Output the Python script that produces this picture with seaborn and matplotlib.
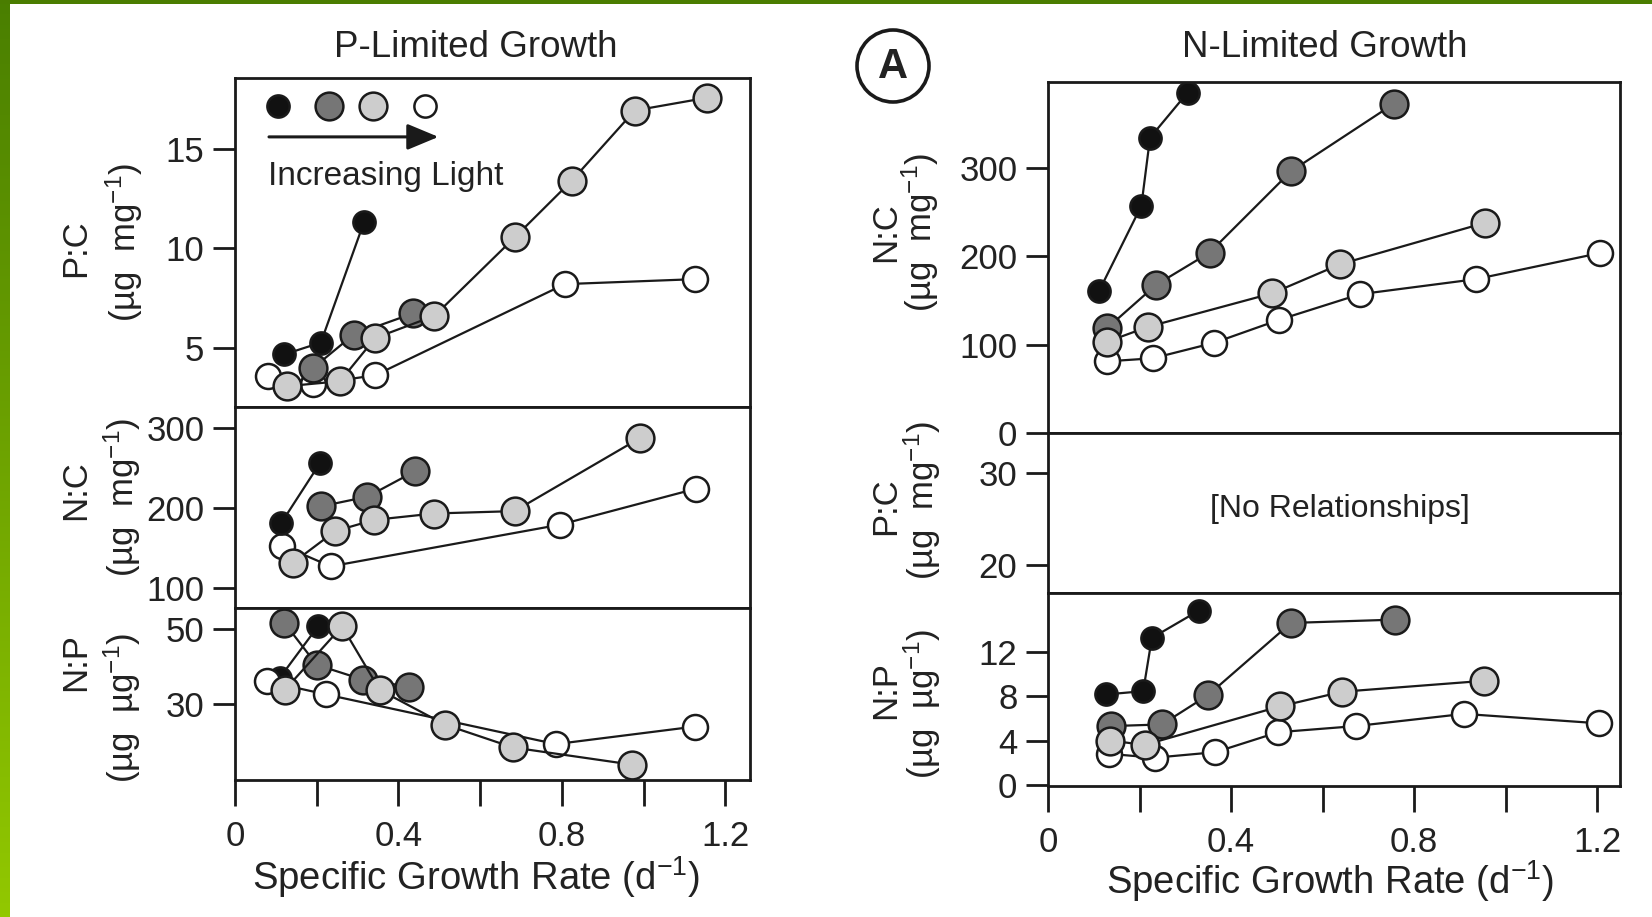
import numpy as np
import matplotlib
matplotlib.use("Agg")
import matplotlib.pyplot as plt
from matplotlib.patches import Ellipse
import seaborn as sns

# ---------------- data ----------------
# P-limited growth: P:C (ug mg-1)
pl_pc_black_x = [0.12, 0.21, 0.316]
pl_pc_black_y = [4.65, 5.25, 11.35]
pl_pc_dgray_x = [0.19, 0.29, 0.435]
pl_pc_dgray_y = [3.95, 5.65, 6.72]
pl_pc_lgray_x = [0.127, 0.257, 0.343, 0.488, 0.685, 0.824, 0.978, 1.154]
pl_pc_lgray_y = [3.05, 3.3, 5.48, 6.6, 10.57, 13.42, 16.96, 17.6]
pl_pc_white_x = [0.08, 0.192, 0.343, 0.807, 1.125]
pl_pc_white_y = [3.55, 3.15, 3.6, 8.2, 8.45]

# P-limited growth: N:C (ug mg-1)
pl_nc_black_x = [0.113, 0.208]
pl_nc_black_y = [181, 256]
pl_nc_dgray_x = [0.211, 0.324, 0.441]
pl_nc_dgray_y = [202, 214, 246]
pl_nc_lgray_x = [0.142, 0.245, 0.34, 0.487, 0.684, 0.99]
pl_nc_lgray_y = [131.5, 171, 185, 193, 196, 287]
pl_nc_white_x = [0.116, 0.234, 0.795, 1.128]
pl_nc_white_y = [153, 127, 179, 224]

# P-limited growth: N:P (ug ug-1)
pl_np_black_x = [0.11, 0.203]
pl_np_black_y = [37, 50.7]
pl_np_dgray_x = [0.121, 0.2, 0.314, 0.426]
pl_np_dgray_y = [51.6, 40.4, 36.4, 34.6]
pl_np_lgray_x = [0.122, 0.262, 0.354, 0.514, 0.68, 0.972]
pl_np_lgray_y = [33.7, 50.7, 33.7, 24.4, 18.3, 13.7]
pl_np_white_x = [0.078, 0.222, 0.785, 1.126]
pl_np_white_y = [36, 32.5, 19.2, 23.9]

# N-limited growth: N:C (ug mg-1)
nl_nc_black_x = [0.112, 0.204, 0.223, 0.305]
nl_nc_black_y = [161, 257, 334, 385]
nl_nc_dgray_x = [0.129, 0.236, 0.353, 0.531, 0.756]
nl_nc_dgray_y = [118.5, 167.5, 204, 296, 372.5]
nl_nc_lgray_x = [0.128, 0.218, 0.49, 0.639, 0.954]
nl_nc_lgray_y = [103, 120, 158, 191, 237.6]
nl_nc_white_x = [0.128, 0.229, 0.363, 0.505, 0.682, 0.935, 1.206]
nl_nc_white_y = [81, 84.5, 102, 128, 157, 174, 203.5]

# N-limited growth: N:P (ug ug-1)
nl_np_black_x = [0.126, 0.208, 0.227, 0.329]
nl_np_black_y = [8.15, 8.45, 13.25, 15.7]
nl_np_dgray_x = [0.137, 0.249, 0.35, 0.531, 0.759]
nl_np_dgray_y = [5.3, 5.45, 8.1, 14.6, 14.9]
nl_np_lgray_x = [0.136, 0.211, 0.506, 0.643, 0.952]
nl_np_lgray_y = [4.0, 3.6, 7.07, 8.4, 9.38]
nl_np_white_x = [0.133, 0.233, 0.366, 0.503, 0.672, 0.909, 1.205]
nl_np_white_y = [2.8, 2.45, 2.95, 4.75, 5.3, 6.4, 5.55]

x_ticks = [0, 0.2, 0.4, 0.6, 0.8, 1.0, 1.2]
x_ticklabels = ["0", "", "0.4", "", "0.8", "", "1.2"]

# ---------------- style ----------------
sns.set_style("ticks")
plt.rcParams['font.family'] = ['Liberation Sans', 'DejaVu Sans']
plt.rcParams['mathtext.fontset'] = 'custom'
plt.rcParams['mathtext.rm'] = 'Liberation Sans'
plt.rcParams['mathtext.it'] = 'Liberation Sans:italic'
plt.rcParams['mathtext.bf'] = 'Liberation Sans:bold'

W, H = 1652, 917
fig = plt.figure(figsize=(W / 100, H / 100), dpi=100)
fig.patch.set_facecolor('white')

TXT = '#222222'
FILL = {'black': '#111111', 'dgray': '#767676', 'lgray': '#cdcdcd', 'white': '#ffffff'}
MS = {'black': 16, 'dgray': 20, 'lgray': 20, 'white': 18}


def add_ax(l, t, r, b):
    return fig.add_axes([l / W, 1 - b / H, (r - l) / W, (b - t) / H])


def style_ax(ax, xlim, ylim, yticks, bottom=False):
    ax.set_xlim(*xlim)
    ax.set_ylim(*ylim)
    ax.set_yticks(yticks)
    ax.set_yticklabels([str(v) for v in yticks])
    for s in ax.spines.values():
        s.set_linewidth(2.0)
        s.set_color('#1a1a1a')
    ax.tick_params(axis='y', direction='out', length=16, width=2, labelsize=25,
                   pad=6, colors='#1a1a1a', labelcolor=TXT)
    if bottom:
        ax.set_xticks(x_ticks)
        ax.set_xticklabels(x_ticklabels)
        ax.tick_params(axis='x', direction='out', length=19, width=2,
                       labelsize=25, pad=10, colors='#1a1a1a', labelcolor=TXT)
    else:
        ax.set_xticks([])
    ax.set_xlabel('')
    ax.set_ylabel('')


def draw(ax, series):
    for key, xs, ys in series:
        sns.lineplot(x=xs, y=ys, ax=ax, color='#1a1a1a', lw=1.6, marker='o',
                     markersize=MS[key], markerfacecolor=FILL[key],
                     markeredgecolor='#1a1a1a', markeredgewidth=1.8,
                     sort=False, estimator=None, legend=False)


# ---------------- left: P-limited ----------------
L_l, L_r = 235, 750
xlimL = (0, 1.26)
axL1 = add_ax(L_l, 78, L_r, 407)
axL2 = add_ax(L_l, 407, L_r, 608)
axL3 = add_ax(L_l, 608, L_r, 780)

draw(axL1, [('white', pl_pc_white_x, pl_pc_white_y),
            ('black', pl_pc_black_x, pl_pc_black_y),
            ('dgray', pl_pc_dgray_x, pl_pc_dgray_y),
            ('lgray', pl_pc_lgray_x, pl_pc_lgray_y)])
draw(axL2, [('white', pl_nc_white_x, pl_nc_white_y),
            ('black', pl_nc_black_x, pl_nc_black_y),
            ('dgray', pl_nc_dgray_x, pl_nc_dgray_y),
            ('lgray', pl_nc_lgray_x, pl_nc_lgray_y)])
draw(axL3, [('black', pl_np_black_x, pl_np_black_y),
            ('white', pl_np_white_x, pl_np_white_y),
            ('dgray', pl_np_dgray_x, pl_np_dgray_y),
            ('lgray', pl_np_lgray_x, pl_np_lgray_y)])

style_ax(axL1, xlimL, (2.0, 18.6), [5, 10, 15])
style_ax(axL2, xlimL, (75, 326), [100, 200, 300])
style_ax(axL3, xlimL, (9.6, 55.6), [30, 50], bottom=True)

# legend-like markers + arrow
for key, xf in [('black', 0.0835), ('dgray', 0.1825), ('lgray', 0.268), ('white', 0.369)]:
    axL1.plot([xf], [0.915], 'o', transform=axL1.transAxes,
              markersize=MS[key] if key != 'white' else 16,
              markerfacecolor=FILL[key], markeredgecolor='#1a1a1a',
              markeredgewidth=1.8)
axL1.annotate('', xy=(0.395, 0.821), xytext=(0.066, 0.821),
              xycoords='axes fraction', textcoords='axes fraction',
              arrowprops=dict(arrowstyle='-|>,head_length=0.6,head_width=0.25',
                              lw=2.2, color='#1a1a1a',
                              mutation_scale=32, shrinkA=0, shrinkB=0))
axL1.text(0.293, 0.702, 'Increasing Light', transform=axL1.transAxes,
          ha='center', va='center', fontsize=24, color=TXT)

# ---------------- right: N-limited ----------------
R_l, R_r = 1048, 1620
xlimR = (0, 1.25)
axR1 = add_ax(R_l, 82, R_r, 433)
axR2 = add_ax(R_l, 433, R_r, 593)
axR3 = add_ax(R_l, 593, R_r, 786)

draw(axR1, [('white', nl_nc_white_x, nl_nc_white_y),
            ('dgray', nl_nc_dgray_x, nl_nc_dgray_y),
            ('lgray', nl_nc_lgray_x, nl_nc_lgray_y),
            ('black', nl_nc_black_x, nl_nc_black_y)])
draw(axR3, [('white', nl_np_white_x, nl_np_white_y),
            ('dgray', nl_np_dgray_x, nl_np_dgray_y),
            ('lgray', nl_np_lgray_x, nl_np_lgray_y),
            ('black', nl_np_black_x, nl_np_black_y)])

style_ax(axR1, xlimR, (0, 397), [0, 100, 200, 300])
style_ax(axR2, xlimR, (17.0, 34.3), [20, 30])
style_ax(axR3, xlimR, (-0.1, 17.3), [0, 4, 8, 12], bottom=True)
axR2.text(0.51, 0.525, '[No Relationships]', transform=axR2.transAxes,
          ha='center', va='center', fontsize=23, color=TXT)

# ---------------- titles and labels ----------------
def ftext(xp, yp, s, **kw):
    fig.text(xp / W, 1 - yp / H, s, color=TXT, **kw)

ftext(476, 57, 'P-Limited Growth', ha='center', va='baseline', fontsize=26.5)
ftext(1325, 57, 'N-Limited Growth', ha='center', va='baseline', fontsize=26.5)
ftext(476, 890, 'Specific Growth Rate (d$^{-1}$)', ha='center', va='baseline', fontsize=27.5)
ftext(1330, 894, 'Specific Growth Rate (d$^{-1}$)', ha='center', va='baseline', fontsize=27.5)

unit_mg = '(µg  mg$^{-1}$)'
unit_ug = '(µg  µg$^{-1}$)'
lab_kw = dict(rotation=90, ha='center', va='center', fontsize=25)
ftext(76, 248, 'P:C', **lab_kw)
ftext(124, 242, unit_mg, **lab_kw)
ftext(76, 490, 'N:C', **lab_kw)
ftext(122, 497, unit_mg, **lab_kw)
ftext(76, 662, 'N:P', **lab_kw)
ftext(122, 708, unit_ug, **lab_kw)

ftext(886, 232, 'N:C', **lab_kw)
ftext(920, 232, unit_mg, **lab_kw)
ftext(886, 506, 'P:C', **lab_kw)
ftext(922, 500, unit_mg, **lab_kw)
ftext(886, 690, 'N:P', **lab_kw)
ftext(922, 704, unit_ug, **lab_kw)

# circled "A"
fig.patches.append(Ellipse((893 / W, 1 - 66 / H), 72 / W, 72 / H,
                           transform=fig.transFigure, fill=False,
                           lw=2.6, edgecolor='#1a1a1a'))
ftext(893, 67, 'A', ha='center', va='center', fontsize=30, fontweight='bold')

# ---------------- green frame ----------------
strip = fig.add_axes([0, 0, 10 / W, 1])
top_c = np.array([0x4a, 0x7f, 0x00]) / 255
bot_c = np.array([0x92, 0xc8, 0x00]) / 255
t = np.linspace(0, 1, 256)[:, None, None]
grad = top_c[None, None, :] * (1 - t) + bot_c[None, None, :] * t
strip.imshow(grad, aspect='auto', extent=(0, 1, 0, 1))
strip.axis('off')
topbar = fig.add_axes([0, 1 - 4 / H, 1, 4 / H])
topbar.set_facecolor('#4a7d00')
topbar.set_xticks([]); topbar.set_yticks([])
for s in topbar.spines.values():
    s.set_visible(False)

fig.savefig('out.png', dpi=100, facecolor='white')
